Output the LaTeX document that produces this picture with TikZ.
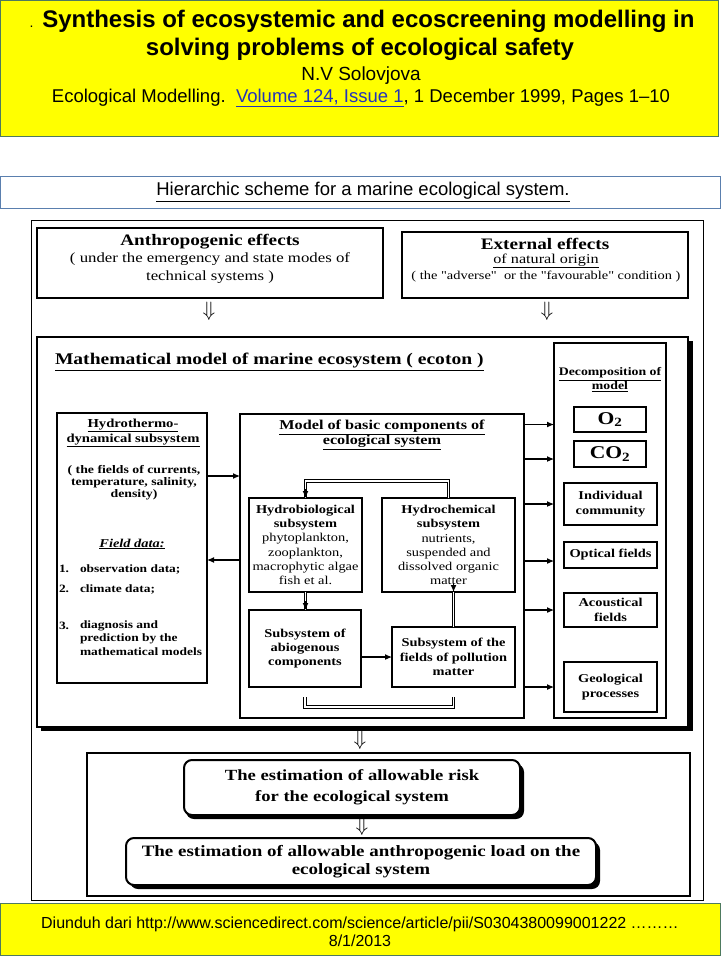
\documentclass[tikz,border=0pt]{standalone}
\usepackage{fontspec}
\setmainfont{Liberation Serif}[FakeStretch=1.2, Ligatures=TeXOff]
\newfontfamily\arial{Liberation Sans}
\usetikzlibrary{arrows.meta,calc}
\definecolor{hdryellow}{HTML}{FFFF00}
\definecolor{hdrborder}{HTML}{4E7A5E}
\definecolor{subborder}{HTML}{5A7FAE}
\definecolor{linkblue}{HTML}{2233BB}
\newcommand{\fss}[2]{\fontsize{#1}{#2}\selectfont}
\begin{document}
\begin{tikzpicture}[x=1pt,y=-1pt,
  every node/.style={inner sep=0pt, outer sep=0pt},
  thickbox/.style={draw=black, line width=2.4pt, fill=white, align=center, font=\bfseries\fss{12}{15}},
  roundbox/.style={draw=black, line width=2pt, fill=white, rounded corners=8pt, align=center},
  shadowfill/.style={fill=black, rounded corners=8pt},
  arr/.style={-{Latex[length=7pt,width=6pt]}, line width=1.1pt},
  dbl/.style={draw=black, double=white, double distance=1.6pt, line width=0.8pt},
  dnarrow/.style={font=\fss{20}{20}},
  lbl/.style={align=center},
  item/.style={anchor=west, font=\bfseries\fss{11.2}{13}}
]
\useasboundingbox (0,0) rectangle (720,960);

% ---------- header ----------
\node[draw=hdrborder, line width=1pt, fill=hdryellow, minimum width=718pt, minimum height=136pt] (hdr) at (359.5,68.5) {};
\node[font=\arial\bfseries\fss{24}{26}] (t1) at (362,21) {{\mdseries\fss{14}{14}.} Synthesis of ecosystemic and ecoscreening modelling in};
\node[font=\arial\bfseries\fss{24}{26}] (t2) at (360,49) {solving problems of ecological safety};
\node[font=\arial\fss{19}{20}] (t3) at (361,76) {N.V Solovjova};
\node[font=\arial\fss{18.5}{20}] (t4) at (361,98) {Ecological Modelling.\ \ {\color{linkblue}\underline{Volume 124, Issue 1}}, 1 December 1999, Pages 1–10};

% ---------- subtitle ----------
\node[draw=subborder, line width=1pt, fill=white, minimum width=720pt, minimum height=31pt] (sub) at (360,192.5) {};
\node[font=\arial\fss{18.5}{20}] (subt) at (363,192) {\underline{Hierarchic scheme for a marine ecological system.}};

% ---------- picture frame ----------
\node[draw=black, line width=0.8pt, minimum width=672pt, minimum height=680pt] (frame) at (367,560) {};

% ---------- top boxes ----------
\node[thickbox, minimum width=346pt, minimum height=70pt] (anth) at (210,263) {};
\node[font=\bfseries\fss{16}{17}] (anth1) at (210,242) {Anthropogenic effects};
\node[font=\fss{14}{15}] (anth2) at (210,259) {( under the emergency and state modes of};
\node[font=\fss{14}{15}] (anth3) at (210,277) {technical systems )};

\node[thickbox, minimum width=286pt, minimum height=66pt] (ext) at (545,265) {};
\node[font=\bfseries\fss{16}{17}] (ext1) at (545,244) {External effects};
\node[font=\fss{13.5}{15}] (ext2) at (546,261) {\underline{of natural origin}};
\node[font=\fss{12}{13}] (ext3) at (546,277) {( the "adverse"\ \ or the "favourable" condition )};

\node[dnarrow] (da1) at (209,311) {$\Downarrow$};
\node[dnarrow] (da2) at (547,311) {$\Downarrow$};

% ---------- main model box ----------
\fill[black] (41,341) rectangle (693,731);
\node[draw=black, line width=2.4pt, fill=white, minimum width=651pt, minimum height=390pt] (main) at (362.5,532) {};
\node[anchor=west, font=\bfseries\fss{16.3}{17}] (maint) at (55,362) {\underline{Mathematical model of marine ecosystem ( ecoton )}};

% decomposition column
\node[draw=black, line width=2.6pt, fill=white, minimum width=112pt, minimum height=375pt] (dc) at (610,530.5) {};
\node[lbl, font=\bfseries\fss{11.5}{14}] (dct) at (610,380) {\underline{Decomposition of}\\\underline{model}};
\node[thickbox, font=\bfseries\fss{18}{18}, minimum width=72pt, minimum height=25pt] (o2) at (610,419.5) {O\textsubscript{2}};
\node[thickbox, font=\bfseries\fss{18}{18}, minimum width=72pt, minimum height=26pt] (co2) at (610,454) {CO\textsubscript{2}};
\node[thickbox, minimum width=93pt, minimum height=42pt] (ind) at (610.5,504) {Individual\\community};
\node[thickbox, minimum width=93pt, minimum height=26pt] (opt) at (610.5,555) {Optical fields};
\node[thickbox, minimum width=93pt, minimum height=34pt] (aco) at (610.5,610) {Acoustical\\fields};
\node[thickbox, minimum width=93pt, minimum height=50pt] (geo) at (610.5,687) {Geological\\processes};

% hydrothermodynamical subsystem
\node[draw=black, line width=2.4pt, fill=white, minimum width=150pt, minimum height=270pt] (ht) at (132,548) {};
\node[lbl, font=\bfseries\fss{12.2}{15}] (ht1) at (133,433) {\underline{Hydrothermo-}\\\underline{dynamical subsystem}};
\node[lbl, font=\bfseries\fss{11.5}{11.8}] (ht2) at (134,482.5) {( the fields of currents,\\temperature, salinity,\\density)};
\node[font=\bfseries\itshape\fss{12}{13}] (ht3) at (132,544) {\underline{Field data:}};
\node[item] (hl1) at (59,569) {1.};
\node[item] (hl1t) at (80,569) {observation data;};
\node[item] (hl2) at (59,589) {2.};
\node[item] (hl2t) at (80,589) {climate data;};
\node[item] (hl3) at (59,626) {3.};
\node[item] (hl3a) at (80,626) {diagnosis and};
\node[item] (hl3b) at (80,639) {prediction by the};
\node[item] (hl3c) at (80,652) {mathematical models};

% model of basic components
\node[draw=black, line width=2.4pt, fill=white, minimum width=284pt, minimum height=304pt] (mb) at (382,566) {};
\node[lbl, font=\bfseries\fss{13.5}{15}] (mbt) at (382,435) {\underline{Model of basic components of}\\\underline{ecological system}};

\node[thickbox, minimum width=113pt, minimum height=94pt, font=\fss{12}{14.2}] (hb) at (305.5,545) {\textbf{Hydrobiological}\\\textbf{subsystem}\\phytoplankton,\\zooplankton,\\macrophytic algae\\fish et al.};
\node[thickbox, minimum width=133pt, minimum height=94pt, font=\fss{12}{14.2}] (hc) at (448.5,545) {\textbf{Hydrochemical}\\\textbf{subsystem}\\nutrients,\\suspended and\\dissolved organic\\matter};
\node[thickbox, minimum width=112pt, minimum height=77pt, font=\bfseries\fss{12}{14.2}] (ab) at (305,648.5) {Subsystem of\\abiogenous\\components};
\node[thickbox, minimum width=123pt, minimum height=60pt, font=\bfseries\fss{12}{14.5}] (pol) at (453.5,657) {Subsystem of the\\fields of pollution\\matter};

% inner connectors
\draw[dbl] (hc.north) -- ++(0,-17) -| (hb.north);
\draw[arr] ([yshift=9pt]hb.north) -- (hb.north);
\draw[dbl] (hb.south) -- (hb.south |- ab.north);
\draw[arr] ([yshift=-9pt]hb.south) -- (hb.south |- ab.north);
\draw[dbl] (pol.north) -- (pol.north |- hc.south);
\draw[arr] ([yshift=9pt]pol.north |- hc.south) -- (pol.north |- hc.south);
\draw[arr] (ab.east |- pol.west) -- (pol.west);
\draw[dbl] ([yshift=-10pt]ab.south) -- ++(0,10) -| ([yshift=-10pt]pol.south);

% hydrothermo <-> model
\coordinate (r1) at (0,476);
\coordinate (r2) at (0,560);
\draw[arr] (ht.east |- r1) -- (mb.west |- r1);
\draw[arr] (mb.west |- r2) -- (ht.east |- r2);

% model -> decomposition
\draw[arr] ($(mb.east |- o2)+(0,5)$) -- ($(dc.west |- o2)+(0,5)$);
\draw[arr] ($(mb.east |- co2)+(0,5)$) -- ($(dc.west |- co2)+(0,5)$);
\draw[arr] (mb.east |- ind) -- (dc.west |- ind);
\draw[arr] ($(mb.east |- opt)+(0,6)$) -- ($(dc.west |- opt)+(0,6)$);
\draw[arr] (mb.east |- aco) -- (dc.west |- aco);
\draw[arr] (mb.east |- geo) -- (dc.west |- geo);

% ---------- bottom section ----------
\node[dnarrow] (da3) at (360,740) {$\Downarrow$};
\node[draw=black, line width=1.8pt, fill=white, minimum width=603pt, minimum height=143pt] (bot) at (388.5,824.5) {};
\fill[shadowfill] (186,764) rectangle (524,819);
\node[roundbox, font=\bfseries\fss{15.5}{21}, minimum width=336pt, minimum height=55pt] (risk) at (352,787.5) {The estimation of allowable risk\\for the ecological system};
\node[dnarrow] (da4) at (362,826) {$\Downarrow$};
\fill[shadowfill] (130,842) rectangle (600,889);
\node[roundbox, font=\bfseries\fss{15.8}{18}, minimum width=470pt, minimum height=47pt] (load) at (361,861.5) {The estimation of allowable anthropogenic load on the\\ecological system};

% ---------- footer ----------
\node[draw=hdrborder, line width=1pt, fill=hdryellow, minimum width=720pt, minimum height=52pt] (ftr) at (360,929) {};
\node[font=\arial\fss{16}{17}] (f1) at (360,924) {Diunduh dari http://www.sciencedirect.com/science/article/pii/S0304380099001222 ………};
\node[font=\arial\fss{16}{17}] (f2) at (360,941) {8/1/2013};
\end{tikzpicture}
\end{document}
